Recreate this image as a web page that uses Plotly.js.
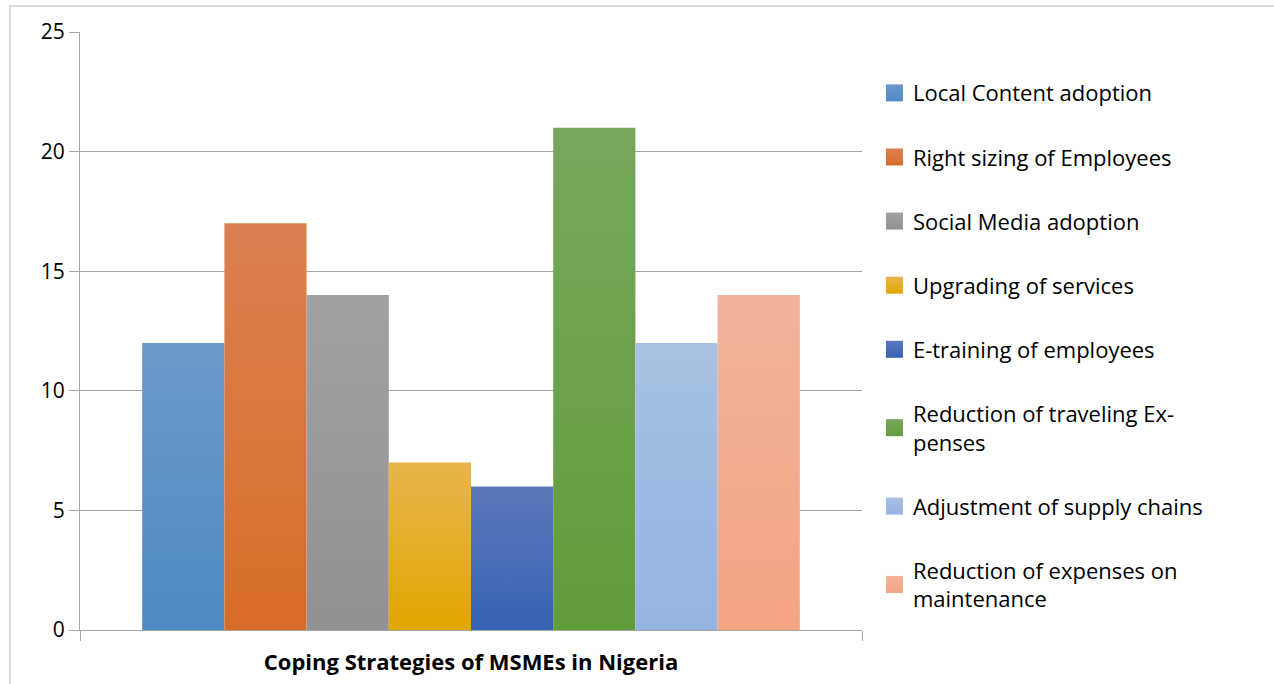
<!DOCTYPE html>
<html>
<head>
<meta charset="utf-8">
<script src="https://cdn.plot.ly/plotly-3.0.1.min.js"></script>
<style>
  html, body { margin: 0; padding: 0; background: #ffffff; }
  #wrap { position: relative; width: 1274px; height: 684px; }
  #chart { position: absolute; left: 0; top: 0; width: 1274px; height: 684px; }
  #frame { position: absolute; left: 9px; top: 5px; width: 1265px; height: 679px;
           border-top: 2px solid #dddddd; border-left: 2px solid #dddddd; pointer-events: none; box-sizing: border-box; }
</style>
</head>
<body>
<div id="wrap">
  <div id="chart"></div>
  <div id="frame"></div>
</div>
<script>
// ---- data ----
const category = "Coping Strategies of MSMEs in Nigeria";
const seriesNames = [
  "Local Content adoption",
  "Right sizing of Employees",
  "Social Media adoption",
  "Upgrading of services",
  "E-training of employees",
  "Reduction of traveling Ex-<br>penses",
  "Adjustment of supply chains",
  "Reduction of expenses on<br>maintenance"
];
const seriesValues = [12, 17, 14, 7, 6, 21, 12, 14];
const colorTop    = ["#6a99c9", "#db8152", "#a1a1a1", "#e9b54d", "#5b79bc", "#77a75b", "#a8c1e4", "#f2b399"];
const colorBottom = ["#4e8ac4", "#d86c28", "#929292", "#e1a600", "#3662b2", "#619d3b", "#95b4e0", "#f4a584"];
const colorMid    = ["#5c91c7", "#d9773d", "#999999", "#e5ae27", "#4a6eb7", "#6ca24b", "#9ebbe2", "#f3ac8e"];
const yTicks = [0, 5, 10, 15, 20, 25];

const FONT = "'Open Sans', Lato, sans-serif";

const traces = seriesNames.map((name, i) => ({
  type: "bar",
  name: name,
  x: [category],
  y: [seriesValues[i]],
  marker: { color: colorMid[i], line: { width: 0 } },
  legendgroup: "g" + i,
  hoverinfo: "name+y"
}));

const layout = {
  width: 1274,
  height: 684,
  margin: { l: 80, r: 412, t: 32, b: 54, pad: 0 },
  paper_bgcolor: "#ffffff",
  plot_bgcolor: "#ffffff",
  barmode: "group",
  bargap: 0.159,
  bargroupgap: 0,
  font: { family: FONT, size: 20, color: "#000000" },
  xaxis: {
    type: "category",
    showline: true,
    linecolor: "#a6a6a6",
    linewidth: 1,
    ticks: "outside",
    tickson: "boundaries",
    ticklen: 10,
    tickcolor: "#a6a6a6",
    ticklabelstandoff: 13,
    tickfont: { family: FONT, size: 22, color: "#000000", weight: "bold" },
    showgrid: false,
    zeroline: false
  },
  yaxis: {
    range: [0, 25],
    tickvals: yTicks,
    ticktext: yTicks.map(String),
    showline: true,
    linecolor: "#a6a6a6",
    linewidth: 1,
    ticks: "outside",
    ticklen: 10,
    tickcolor: "#a6a6a6",
    showgrid: true,
    gridcolor: "#a6a6a6",
    gridwidth: 1,
    zeroline: false,
    tickfont: { family: FONT, size: 21, color: "#000000" }
  },
  legend: {
    x: 1.014,
    xanchor: "left",
    y: 0.933,
    yanchor: "top",
    traceorder: "grouped",
    tracegroupgap: 32.5,
    font: { family: FONT, size: 22, color: "#000000" },
    bgcolor: "rgba(0,0,0,0)",
    borderwidth: 0
  },
  showlegend: true
};

Plotly.newPlot("chart", traces, layout, { displayModeBar: false, staticPlot: true }).then(gd => {
  // vertical gradients like the original (lighter top, darker bottom)
  const svg = gd.querySelector("svg.main-svg");
  const ns = "http://www.w3.org/2000/svg";
  let defs = svg.querySelector("defs");
  if (!defs) { defs = document.createElementNS(ns, "defs"); svg.insertBefore(defs, svg.firstChild); }
  colorTop.forEach((c, i) => {
    const lg = document.createElementNS(ns, "linearGradient");
    lg.setAttribute("id", "barGrad" + i);
    lg.setAttribute("x1", "0"); lg.setAttribute("y1", "0");
    lg.setAttribute("x2", "0"); lg.setAttribute("y2", "1");
    const s1 = document.createElementNS(ns, "stop");
    s1.setAttribute("offset", "0"); s1.setAttribute("stop-color", c);
    const s2 = document.createElementNS(ns, "stop");
    s2.setAttribute("offset", "1"); s2.setAttribute("stop-color", colorBottom[i]);
    lg.appendChild(s1); lg.appendChild(s2);
    defs.appendChild(lg);
  });
  const barTraces = gd.querySelectorAll(".barlayer .trace");
  barTraces.forEach((t, i) => {
    t.querySelectorAll("path").forEach(p => { p.style.fill = "url(#barGrad" + i + ")"; });
  });
  const legTraces = gd.querySelectorAll(".legend .traces");
  legTraces.forEach((t, i) => {
    t.querySelectorAll(".legendpoints path").forEach(p => {
      p.style.fill = "url(#barGrad" + i + ")";
      p.style.stroke = "none";
      p.removeAttribute("transform");
      p.setAttribute("d", "M13,8.5H30V-8.5H13Z");
    });
  });
});
</script>
</body>
</html>
